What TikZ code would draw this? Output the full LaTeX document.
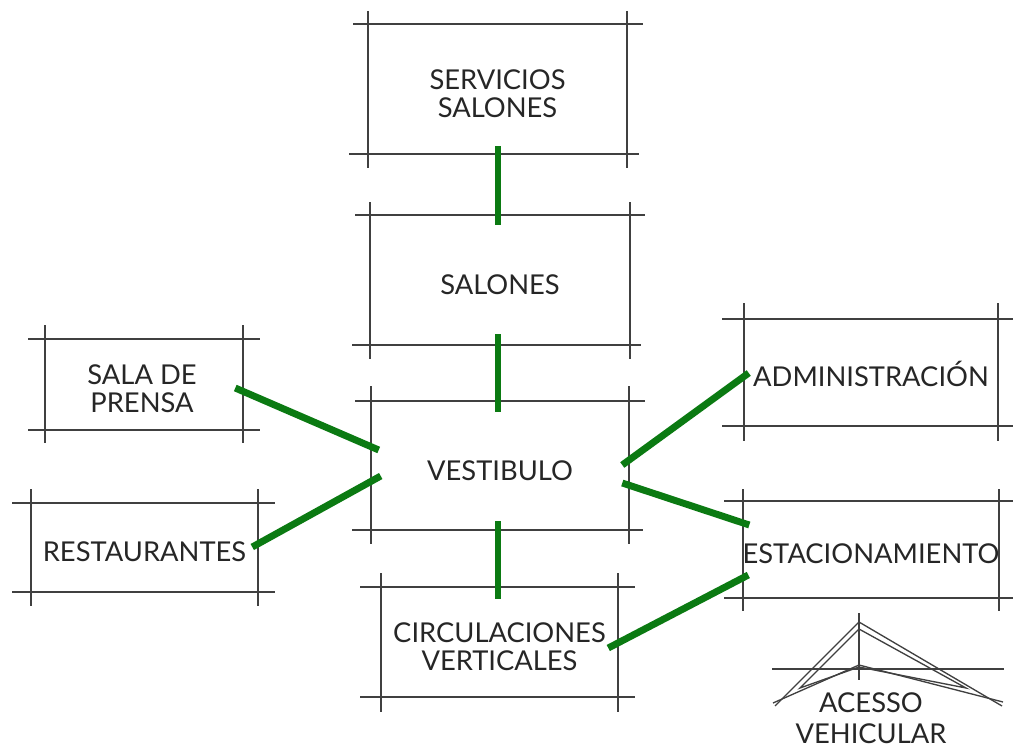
\documentclass[tikz,border=0pt]{standalone}
\usepackage{fontspec}
\setmainfont{Lato}
\definecolor{gridc}{HTML}{404040}
\definecolor{linkc}{HTML}{0B7A12}
\definecolor{textc}{HTML}{262626}
\newcommand{\lbl}[1]{\begin{tabular}{@{}c@{}}\rule{0pt}{28.2pt}#1\end{tabular}}
\tikzset{
  room/.style={inner sep=0pt,text=textc,font=\fontsize{20.5}{21}\selectfont},
  gridline/.style={draw=gridc,line width=1pt},
  thinline/.style={draw=gridc,line width=1pt,line join=miter},
  link/.style={draw=linkc,line width=5.2pt},
}
\begin{document}
\begin{tikzpicture}[x=0.75pt,y=-0.75pt]
\useasboundingbox (0,0) rectangle (1013,749);
% rooms: invisible rectangle nodes carrying the labels
\node[room,minimum width=194.25pt,minimum height=97.5pt] (srv) at (497.5,89) {\lbl{SERVICIOS\\SALONES}};
\node[room,minimum width=195pt,minimum height=97.5pt] (sal) at (500,280) {\lbl{SALONES}};
\node[room,minimum width=193.5pt,minimum height=96.75pt] (ves) at (500,465.5) {\lbl{VESTIBULO}};
\node[room,minimum width=148.5pt,minimum height=68.25pt] (pre) at (144,384) {\hspace*{-3pt}\lbl{SALA DE\\PRENSA}};
\node[room,minimum width=170.25pt,minimum height=66.75pt] (res) at (144.5,547) {\lbl{RESTAURANTES}};
\node[room,minimum width=177.75pt,minimum height=82.5pt] (cir) at (499.5,642) {\lbl{CIRCULACIONES\\VERTICALES}};
\node[room,minimum width=190.5pt,minimum height=80.25pt] (adm) at (871,372) {\lbl{ADMINISTRACIÓN}};
\node[room,minimum width=192pt,minimum height=72.75pt] (est) at (871,549) {\lbl{ESTACIONAMIENTO}};
% construction lines
\foreach \y/\a/\b in {24/353/643,154/349/639,215/355/645,345/352/641,401/355/645,530/352/643,339/28/260,430/28/260,503/12/275,592/12/275,587/360/635,697/360/635,319/722/1013,426/722/1013,501/724/1013,598/724/1013}
  \draw[gridline] (\a,\y) -- (\b,\y);
\foreach \x/\a/\b in {368/11/168,627/11/168,370/202/359,630/202/359,371/386/544,629/386/544,45/325/443,243/325/443,31/489/606,258/489/606,381/573/712,618/573/712,744/303/441,998/303/441,743/489/611,999/489/611}
  \draw[gridline] (\x,\a) -- (\x,\b);
% connectors
\draw[link] ([shift={(.5,-8)}]srv.south) -- ([shift={(-2,10)}]sal.north);
\draw[link] ([shift={(-2,-11)}]sal.south) -- ([shift={(-2,11)}]ves.north);
\draw[link] ([shift={(-2,-9)}]ves.south) -- ([shift={(-1.5,12)}]cir.north);
\draw[link] ([shift={(-8,4)}]pre.east) -- ([shift={(8,-15.5)}]ves.west);
\draw[link] ([shift={(-6,0)}]res.east) -- ([shift={(10,10.5)}]ves.west);
\draw[link] ([shift={(-7,-.5)}]ves.east) -- ([shift={(5,1)}]adm.west);
\draw[link] ([shift={(-7,17.5)}]ves.east) -- ([shift={(7,-24)}]est.west);
\draw[link] ([shift={(-10,6)}]cir.east) -- ([shift={(6,26)}]est.west);
% vehicular access symbol
\draw[thinline] (859,613) -- (859,680);
\draw[thinline] (772,669) -- (1004,669);
\draw[thinline] (775,706) -- (859,622) -- (1002,706);
\draw[thinline] (773,703) -- (859,665) -- (1003,702);
\draw[thinline] (800,688) -- (859,629) -- (966,688) -- (859,667) -- cycle;
\node[room,font=\fontsize{20.5}{23.25}\selectfont,align=center,anchor=south] (acc) at (871,744) {ACESSO\\VEHICULAR};
\end{tikzpicture}
\end{document}
